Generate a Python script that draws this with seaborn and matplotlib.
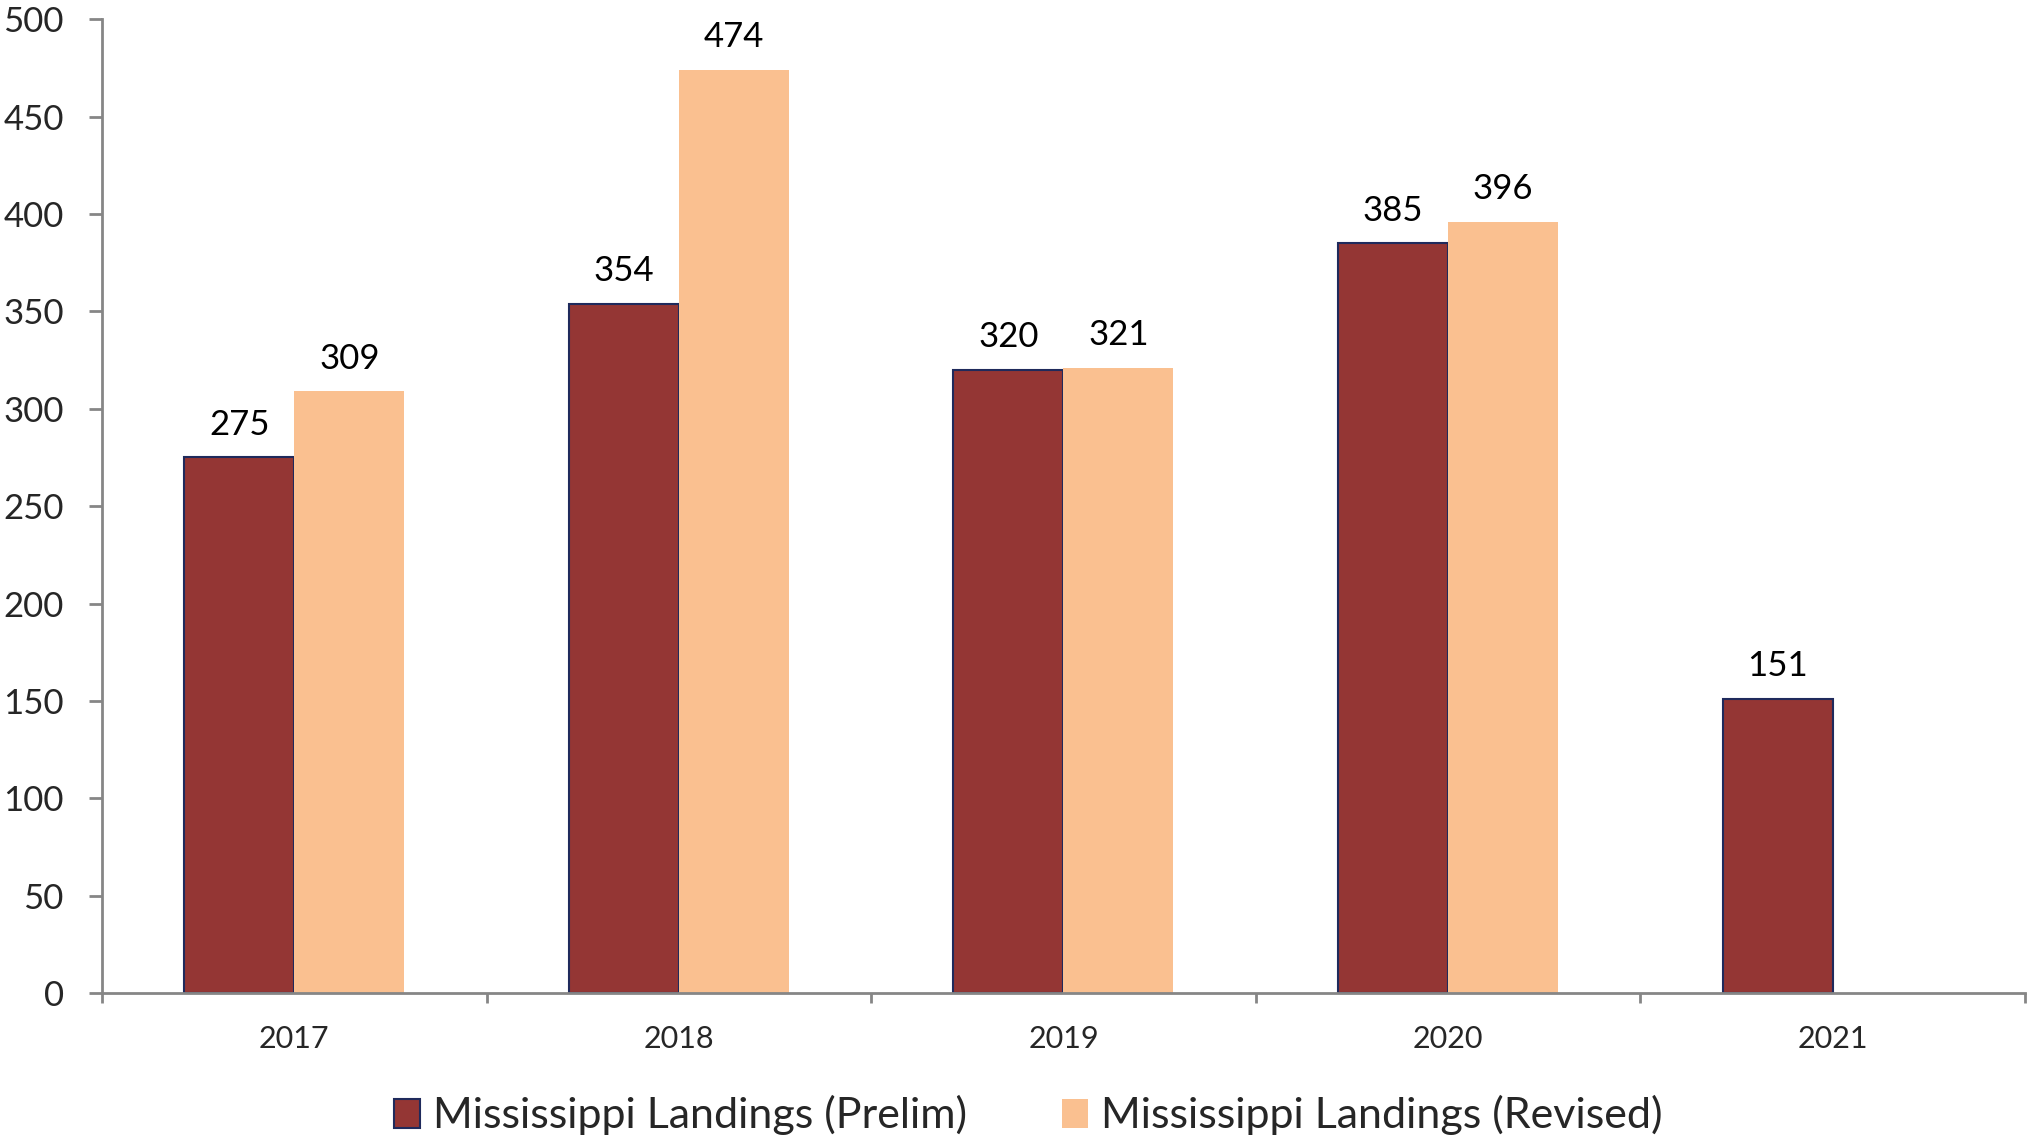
import numpy as np
import pandas as pd
import seaborn as sns
import matplotlib.pyplot as plt
from matplotlib.patches import Patch
from matplotlib.ticker import FixedLocator

years = ['2017', '2018', '2019', '2020', '2021']
prelim = [275, 354, 320, 385, 151]
revised = [309, 474, 321, 396, np.nan]
series = ['Mississippi Landings (Prelim)', 'Mississippi Landings (Revised)']
colors = ['#943634', '#FAC090']
edge_navy = '#1F2A5C'

df = pd.DataFrame({
    'year': years * 2,
    'value': prelim + revised,
    'series': [series[0]] * len(years) + [series[1]] * len(years),
})

sns.set_style('white')
plt.rcParams['font.family'] = ['Lato', 'DejaVu Sans']

fig = plt.figure(figsize=(20.28, 11.38), dpi=100)
ax = fig.add_axes([0.0503, 0.1274, 0.9482, 0.8556])

sns.barplot(data=df, x='year', y='value', hue='series', palette=colors,
            width=0.572, saturation=1, edgecolor='none', linewidth=0,
            legend=False, ax=ax)

for bar in ax.containers[0]:
    bar.set_edgecolor(edge_navy)
    bar.set_linewidth(1.5)

for cont in ax.containers:
    labels = ['' if np.isnan(b.get_height()) or b.get_height() == 0 else f'{b.get_height():.0f}'
              for b in cont]
    ax.bar_label(cont, labels=labels, padding=12, fontsize=25, color='black')

ax.set_xlim(-0.5, 4.5)
ax.set_ylim(0, 500)
ax.set_yticks(range(0, 501, 50))
ax.set_xlabel('')
ax.set_ylabel('')

for side in ['top', 'right']:
    ax.spines[side].set_visible(False)
for side in ['left', 'bottom']:
    ax.spines[side].set_color('#868686')
    ax.spines[side].set_linewidth(2)

ax.tick_params(axis='y', which='major', direction='out', length=9.5, width=2,
               color='#868686', labelsize=25, pad=18, left=True)
ax.tick_params(axis='x', which='major', length=0, labelsize=22, pad=23)
ax.xaxis.set_minor_locator(FixedLocator(np.arange(-0.5, 5.0, 1.0)))
ax.tick_params(axis='x', which='minor', direction='out', length=7.5, width=2,
               color='#868686', bottom=True)

handles = [Patch(facecolor=colors[0], edgecolor=edge_navy, linewidth=1.5),
           Patch(facecolor=colors[1], edgecolor='none')]
fig.legend(handles, series, loc='center', bbox_to_anchor=(0.507, 0.02), ncol=2,
           frameon=False, fontsize=31, handlelength=0.6, handleheight=0.65,
           handletextpad=0.3, columnspacing=2.2)

fig.savefig('out.png', dpi=100)
